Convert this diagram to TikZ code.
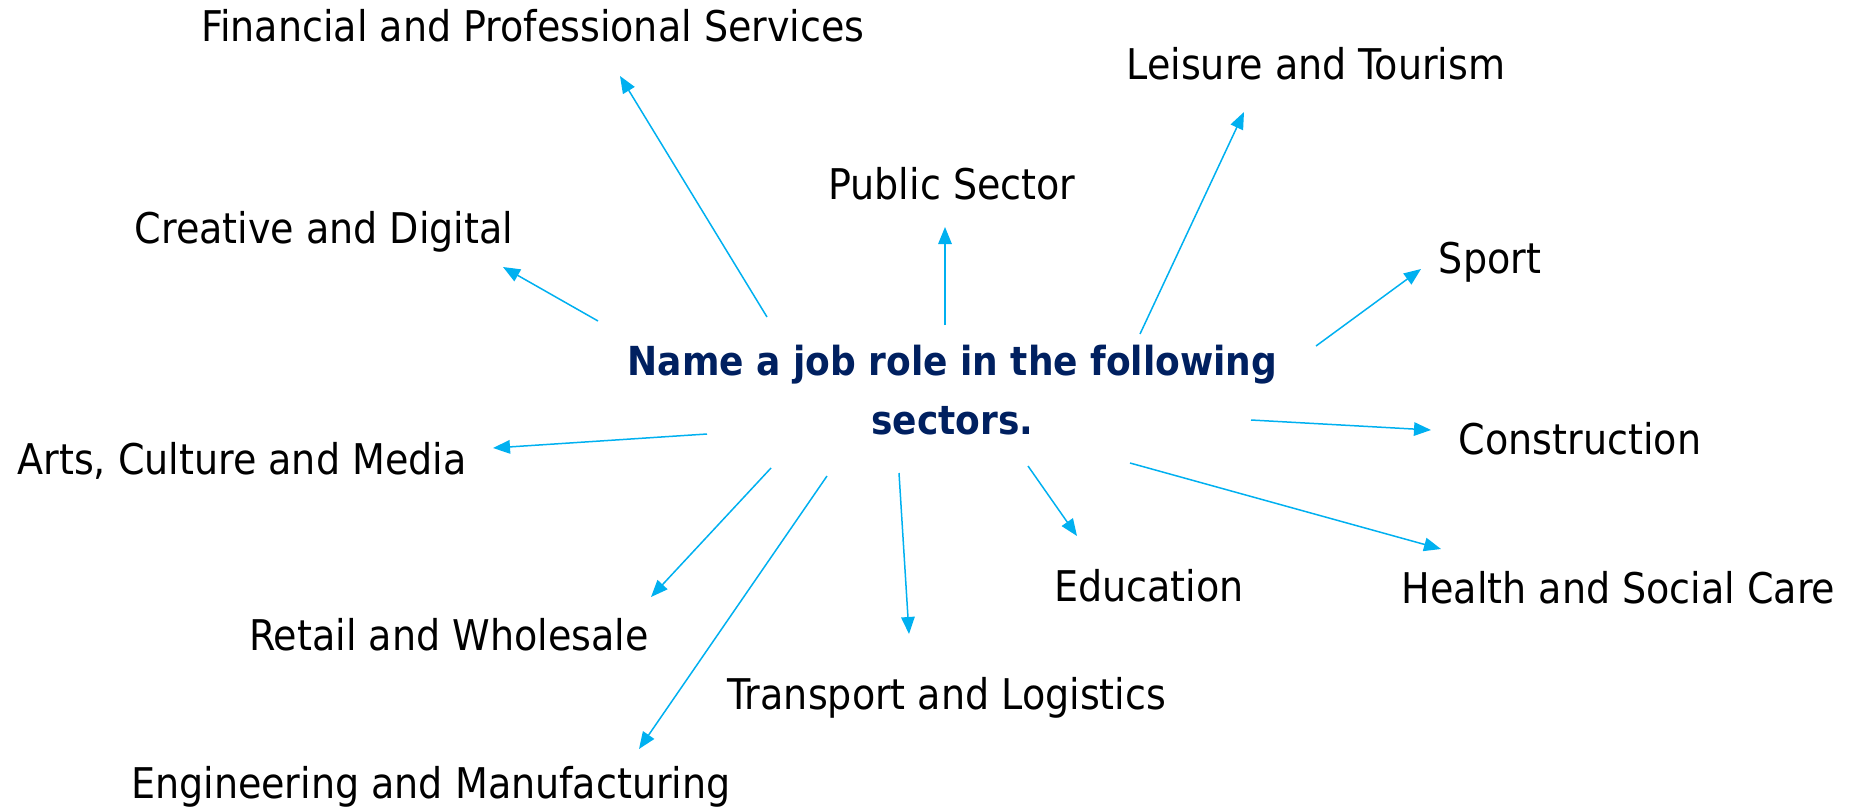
\documentclass[tikz,border=0pt]{standalone}
\usepackage{fontspec}
\setmainfont{DejaVu Sans Condensed}
\usetikzlibrary{arrows.meta}
\definecolor{linkblue}{RGB}{0,176,240}
\definecolor{navy}{RGB}{0,32,96}
\begin{document}
\begin{tikzpicture}[x=1pt,y=-1pt,
  sector/.style={anchor=base,inner sep=0pt,font=\fontsize{42.3}{50}\selectfont,text=black},
  hub/.style={anchor=base,inner sep=0pt,align=center,text=navy,
    font=\fontsize{40}{59}\selectfont\bfseries},
  link/.style={draw=linkblue,line width=1.5pt,-{Triangle[length=17pt,width=13.5pt]}}]
\useasboundingbox (0,0) rectangle (1852,809);

% central question (base anchor sits on the second line)
\node[hub] (hub) at (952.5,434.5) {Name a job role in the following\\sectors.};

% sector labels
\node[sector] (fin)  at (533,41.6)   {Financial and Professional Services};
\node[sector] (cre)  at (324,243)    {Creative and Digital};
\node[sector] (pub)  at (952,199.5)  {Public Sector};
\node[sector] (lei)  at (1316,79)    {Leisure and Tourism};
\node[sector] (spo)  at (1490,273)   {Sport};
\node[sector] (con)  at (1580,454)   {Construction};
\node[sector] (art)  at (242,474.5)  {Arts, Culture and Media};
\node[sector] (ret)  at (449,650)    {Retail and Wholesale};
\node[sector] (eng)  at (431,798)    {Engineering and Manufacturing};
\node[sector] (tra)  at (947,709)    {Transport and Logistics};
\node[sector] (edu)  at (1149,601)   {Education};
\node[sector] (hea)  at (1618.5,603.5) {Health and Social Care};

% arrow ends around the question and near each label
\coordinate (fin-s) at (767,317);  \coordinate (fin-t) at (620,76);
\coordinate (cre-s) at (598,321);  \coordinate (cre-t) at (503,267);
\coordinate (pub-s) at (945,325);  \coordinate (pub-t) at (945,227);
\coordinate (lei-s) at (1140,334); \coordinate (lei-t) at (1244,112);
\coordinate (spo-s) at (1316,346); \coordinate (spo-t) at (1421,269);
\coordinate (con-s) at (1251,420); \coordinate (con-t) at (1431,430);
\coordinate (art-s) at (707,434);  \coordinate (art-t) at (493,448);
\coordinate (ret-s) at (771,468);  \coordinate (ret-t) at (651,597);
\coordinate (eng-s) at (827,476);  \coordinate (eng-t) at (639,749);
\coordinate (tra-s) at (899,473);  \coordinate (tra-t) at (909,634);
\coordinate (edu-s) at (1028,466); \coordinate (edu-t) at (1077,536);
\coordinate (hea-s) at (1130,463); \coordinate (hea-t) at (1441,549);

\foreach \s in {fin,cre,pub,lei,spo,con,art,ret,eng,tra,edu,hea}
  \draw[link] (\s-s) -- (\s-t);
\end{tikzpicture}
\end{document}
